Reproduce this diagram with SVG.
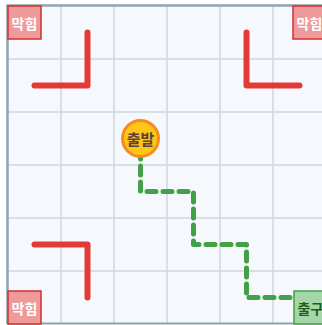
<svg xmlns="http://www.w3.org/2000/svg" width="322" height="325" viewBox="0 0 322 325">
<style>
.grid{stroke:#CFD8DC;stroke-width:1.5;fill:none}
.wall{stroke:#E53935;stroke-width:6;fill:none;stroke-linecap:round;stroke-linejoin:round}
.route{stroke:#43A047;stroke-width:5;fill:none;stroke-dasharray:9 7;stroke-linecap:round;stroke-linejoin:round}
.dead rect{fill:#EF9A9A;stroke:#D32F2F;stroke-width:1.5}
.dead text{fill:#FFFFFF;font-family:"Noto Sans CJK KR",sans-serif;font-weight:bold;font-size:14px;text-anchor:middle;dominant-baseline:central}
.lbl{font-family:"Noto Sans CJK KR",sans-serif;font-weight:bold;text-anchor:middle;dominant-baseline:central}
</style>
<rect x="0" y="0" width="322" height="325" fill="#FFFFFF"/>
<rect x="8" y="6" width="318" height="318" fill="#F5F9FE"/>
<g id="grid" class="grid">
<path d="M61 6V324M114 6V324M167 6V324M220 6V324M273 6V324M8 59H326M8 112H326M8 165H326M8 218H326M8 271H326"/>
</g>
<path d="M7.5 324V5.5H326" stroke="#90A4AE" stroke-width="2.5" fill="none"/>
<path d="M7.5 323.5H326" stroke="#90A4AE" stroke-width="2" fill="none"/>
<g id="walls">
<path class="wall" d="M34.5 85.5H87.5V32.5"/>
<path class="wall" d="M246.5 32.5V85.5H299.5"/>
<path class="wall" d="M34.5 244.5H87.5V297.5"/>
</g>
<g id="connectors">
<path class="route" d="M140.5 150V191.5H193.5V244.5H246.5V297.5H296"/>
</g>
<g id="start">
<circle cx="140.5" cy="138.5" r="18" fill="#FFC61A" stroke="#F68B1F" stroke-width="3"/>
<text class="lbl" x="140.5" y="138.5" font-size="15" fill="#5D4037">출발</text>
</g>
<g id="exit">
<rect x="294" y="291" width="33" height="33" fill="#A5D6A7" stroke="#43A047" stroke-width="1.5"/>
<text class="lbl" x="310.5" y="307.5" font-size="14" fill="#1B5E20">출구</text>
</g>
<g id="dead-tl" class="dead">
<rect x="8" y="6" width="33" height="33"/>
<text x="24.5" y="22.5">막힘</text>
</g>
<g id="dead-tr" class="dead">
<rect x="293" y="6" width="33" height="33"/>
<text x="309.5" y="22.5">막힘</text>
</g>
<g id="dead-bl" class="dead">
<rect x="8" y="291" width="33" height="33"/>
<text x="24.5" y="307.5">막힘</text>
</g>
</svg>
